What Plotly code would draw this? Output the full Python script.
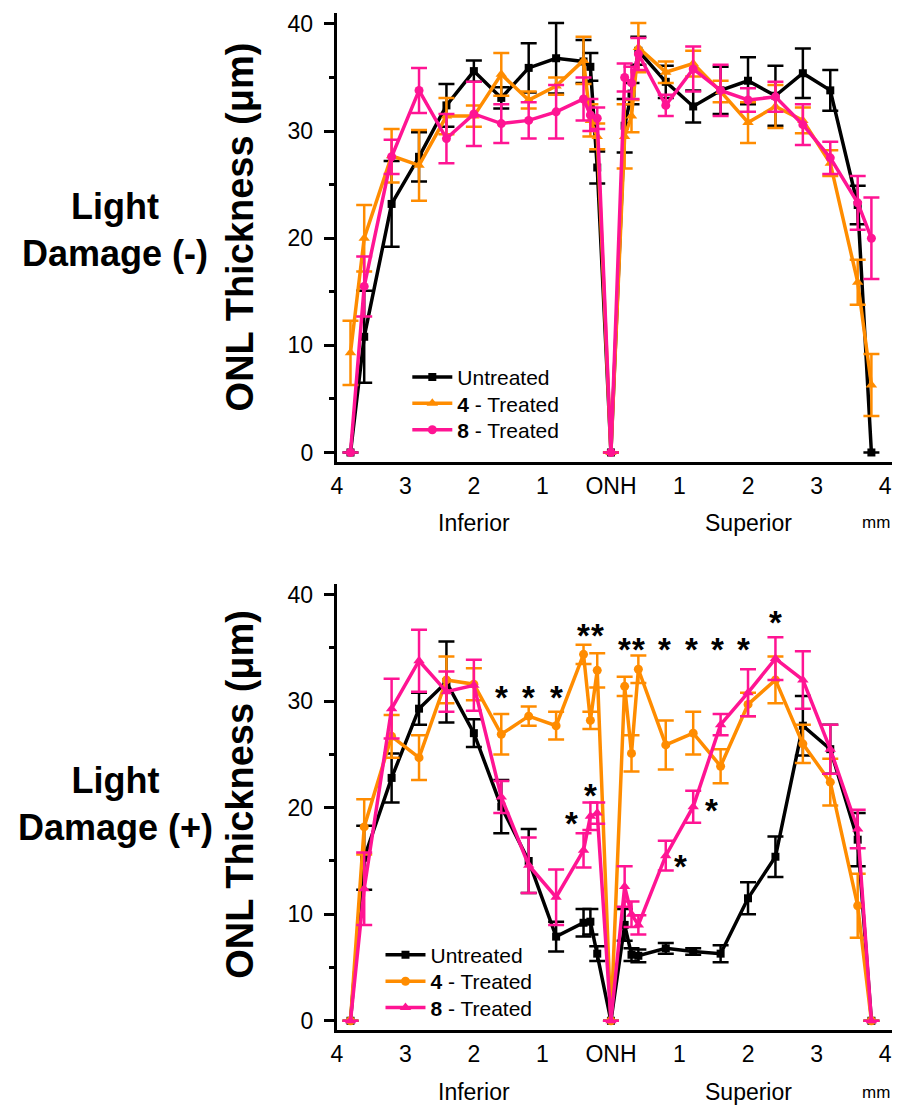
import plotly.graph_objects as go

# ---------------- data ----------------
x_mm = [-3.8, -3.6, -3.2, -2.8, -2.4, -2.0, -1.6, -1.2, -0.8, -0.4, -0.3, -0.2, 0.0,
        0.2, 0.3, 0.4, 0.8, 1.2, 1.6, 2.0, 2.4, 2.8, 3.2, 3.6, 3.8]

x_tick_vals = [-4, -3, -2, -1, 0, 1, 2, 3, 4]
x_tick_text = ["4", "3", "2", "1", "ONH", "1", "2", "3", "4"]
y_tick_vals = [0, 10, 20, 30, 40]

# Light damage (-)
top_untreated = [0, 10.8, 23.2, 27.6, 32.4, 35.6, 33.1, 35.9, 36.8, 36.5, 36.0, 26.6, 0,
                 30.5, 33.5, 37.5, 34.6, 32.3, 33.8, 34.7, 33.3, 35.4, 33.8, 23.1, 0]
top_untreated_err = [None, 4.3, 4.0, 2.3, 2.0, 1.0, 1.0, 2.3, 3.3, 2.0, 1.3, 1.5, None,
                     2.5, 1.0, 1.3, 1.5, 1.5, 2.2, 2.2, 2.8, 2.3, 1.9, 1.8, None]
top_t4 = [9.3, 20.0, 27.7, 26.8, 31.4, 31.4, 35.3, 32.9, 34.2, 36.6, 31.0, 29.5, 0,
          29.5, 31.4, 37.8, 35.5, 36.3, 33.7, 30.8, 32.3, 31.0, 27.0, 15.9, 6.3]
top_t4_err = [3.0, 3.1, 2.5, 3.3, 1.7, 1.0, 2.0, 0.8, 0.8, 2.2, 1.5, 1.2, None,
              3.0, 1.5, 2.3, 1.0, 1.2, 1.0, 1.9, 2.0, 1.2, 1.2, 2.1, 2.9]
top_t8 = [0, 15.5, 27.6, 33.8, 29.3, 31.6, 30.7, 31.0, 31.8, 33.0, 31.5, 31.2, 0,
          35.0, 34.5, 37.2, 32.4, 35.8, 33.8, 32.9, 33.2, 30.6, 27.5, 23.3, 20.0]
top_t8_err = [None, 2.8, 1.6, 2.1, 2.3, 3.0, 1.8, 1.7, 2.5, 2.0, 1.5, 1.0, None,
              1.3, 1.5, 1.5, 1.0, 2.1, 2.4, 1.1, 1.4, 1.9, 1.5, 2.5, 3.8]

# Light damage (+)
bot_untreated = [0, 15.3, 22.8, 29.3, 31.8, 27.0, 20.1, 15.0, 7.9, 9.2, 9.3, 6.3, 0,
                 9.0, 6.2, 6.1, 6.8, 6.5, 6.3, 11.5, 15.4, 27.7, 25.5, 17.0, 0]
bot_untreated_err = [None, 3.0, 2.3, 1.5, 3.8, 1.3, 2.5, 3.0, 1.4, 1.3, 1.2, 0.7, None,
                     1.5, 0.6, 0.6, 0.5, 0.3, 0.8, 1.5, 1.9, 2.8, 2.3, 2.5, None]
bot_t4 = [0, 18.2, 26.7, 24.7, 32.0, 31.6, 26.9, 28.6, 27.7, 34.4, 28.2, 32.9, 0,
          31.4, 25.1, 33.0, 25.9, 27.0, 23.9, 29.7, 32.0, 26.0, 22.4, 10.8, 0]
bot_t4_err = [None, 2.6, 2.0, 2.1, 2.2, 1.5, 1.9, 0.9, 1.3, 0.9, 0.8, 1.6, None,
              0.9, 1.7, 1.3, 2.3, 2.0, 1.6, 1.1, 2.2, 1.8, 2.2, 3.0, None]
bot_t8 = [0, 12.4, 29.3, 33.8, 30.9, 31.5, 21.0, 14.6, 11.6, 16.0, 19.2, 19.5, 0,
          12.6, 10.0, 9.0, 15.5, 20.1, 27.8, 30.8, 34.0, 32.0, 25.5, 18.0, 0]
bot_t8_err = [None, 3.4, 2.8, 2.9, 1.9, 2.4, 1.5, 2.6, 2.6, 1.6, 1.3, 1.0, None,
              1.9, 1.2, 0.9, 1.4, 1.5, 1.0, 2.2, 2.0, 2.7, 2.3, 1.8, None]

series_names = ["Untreated", "<b>4</b> - Treated", "<b>8</b> - Treated"]

# significance marks (x in mm, y in um)
sig_x = [-1.6, -1.2, -0.8, -0.4, -0.2, 0.2, 0.4, 0.78, 1.17, 1.55, 1.94, 2.4,
         -0.57, -0.3, 1.02, 1.46]
sig_y = [31.1, 31.1, 31.1, 36.9, 36.9, 35.6, 35.6, 35.6, 35.6, 35.6, 35.6, 38.1,
         19.3, 21.9, 15.2, 20.5]

BLACK = "#000000"
ORANGE = "#FF8C00"
PINK = "#FF1493"
FONT = "Liberation Sans, Arial, sans-serif"

W, H = 901, 1109

fig = go.Figure()


def add_series(xa, ya, y, err, color, symbol, name, legend, msize):
    fig.add_trace(go.Scatter(
        x=x_mm, y=y, mode="lines+markers", name=name,
        line=dict(color=color, width=3.5),
        marker=dict(color=color, symbol=symbol, size=msize),
        error_y=dict(type="data", array=err, visible=True, color=color,
                     thickness=2.5, width=8),
        xaxis=xa, yaxis=ya, legend=legend, cliponaxis=False,
    ))


add_series("x", "y", top_untreated, top_untreated_err, BLACK, "square", series_names[0], "legend", 8)
add_series("x", "y", top_t4, top_t4_err, ORANGE, "triangle-up", series_names[1], "legend2", 10)
add_series("x", "y", top_t8, top_t8_err, PINK, "circle", series_names[2], "legend3", 9)

add_series("x2", "y2", bot_untreated, bot_untreated_err, BLACK, "square", series_names[0], "legend4", 8)
add_series("x2", "y2", bot_t4, bot_t4_err, ORANGE, "circle", series_names[1], "legend5", 9)
add_series("x2", "y2", bot_t8, bot_t8_err, PINK, "triangle-up", series_names[2], "legend6", 10)

# layout geometry (pixels -> paper)
x_dom = [333 / W, 891.9 / W]
top_dom = [1 - 462.2 / H, 1 - 11.3 / H]
bot_dom = [1 - 1033.0 / H, 1 - 584.7 / H]

xaxis_common = dict(
    range=[-4, 4.1], tickvals=x_tick_vals, ticktext=x_tick_text,
    showline=True, linecolor="black", linewidth=3, ticks="",
    showgrid=False, zeroline=False, domain=x_dom, ticklabelstandoff=1,
    tickfont=dict(family=FONT, size=23, color="black"),
)
yaxis_common = dict(
    range=[-0.9, 41], tickvals=y_tick_vals,
    showline=True, linecolor="black", linewidth=3,
    ticks="outside", ticklen=10, tickwidth=2.5, tickcolor="black",
    minor=dict(ticks="outside", ticklen=5, tickwidth=2.5, tickcolor="black", dtick=5, tick0=0),
    showgrid=False, zeroline=False, ticklabelstandoff=6,
    tickfont=dict(family=FONT, size=23, color="black"),
)


def legend_at(x_px, y_px):
    return dict(x=x_px / W, y=1 - y_px / H, xanchor="left", yanchor="middle",
                bgcolor="rgba(0,0,0,0)", font=dict(family=FONT, size=21, color="black"),
                itemwidth=40)


fig.update_layout(
    width=W, height=H, margin=dict(l=0, r=0, t=0, b=0),
    paper_bgcolor="white", plot_bgcolor="white",
    font=dict(family=FONT, color="black"),
    xaxis=dict(xaxis_common, anchor="y"),
    yaxis=dict(yaxis_common, domain=top_dom, anchor="x"),
    xaxis2=dict(xaxis_common, anchor="y2"),
    yaxis2=dict(yaxis_common, domain=bot_dom, anchor="x2"),
    legend=legend_at(404, 377),
    legend2=legend_at(404, 403.5),
    legend3=legend_at(404, 430),
    legend4=legend_at(377, 957.5),
    legend5=legend_at(377, 984),
    legend6=legend_at(377, 1010.5),
    showlegend=True,
)

ann = []
# row labels
for yc, lab in ((229, "<b>Light<br>Damage (-)</b>"), (806, "<b>Light<br>Damage (+)</b>")):
    ann.append(dict(text=lab, x=110 / W, y=1 - yc / H, xref="paper", yref="paper",
                    xanchor="center", yanchor="middle",
                    showarrow=False, font=dict(family=FONT, size=36, color="black"), align="center"))
# y titles
for yc in (226, 796):
    ann.append(dict(text="<b>ONL Thickness (μm)</b>", x=236 / W, y=1 - yc / H, xref="paper", yref="paper",
                    xanchor="center", yanchor="middle",
                    textangle=-90, showarrow=False, font=dict(family=FONT, size=38, color="black")))
# region labels
for xr, yc in (("x", 523), ("x2", 1095)):
    ann.append(dict(text="Inferior", x=-2, y=1 - yc / H, xref=xr, yref="paper", showarrow=False,
                    xanchor="center", yanchor="middle",
                    font=dict(family=FONT, size=23, color="black")))
    ann.append(dict(text="Superior", x=2, y=1 - yc / H, xref=xr, yref="paper", showarrow=False,
                    xanchor="center", yanchor="middle",
                    font=dict(family=FONT, size=23, color="black")))
    ann.append(dict(text="mm", x=3.87, y=1 - yc / H, xref=xr, yref="paper", showarrow=False,
                    xanchor="center", yanchor="middle",
                    font=dict(family=FONT, size=17, color="black")))
# significance asterisks
for sx, sy in zip(sig_x, sig_y):
    ann.append(dict(text="<b>*</b>", x=sx, y=sy, xref="x2", yref="y2", showarrow=False,
                    xanchor="center", yanchor="middle",
                    yshift=-8, font=dict(family=FONT, size=33, color="black")))

fig.update_layout(annotations=ann)

fig.write_html("out.html")
